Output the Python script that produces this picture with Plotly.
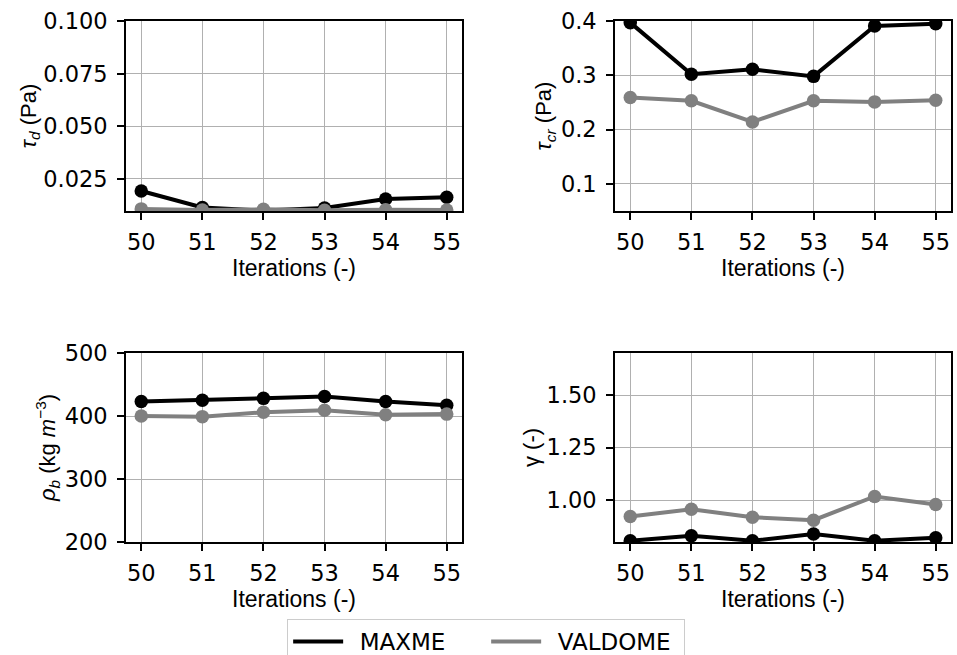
import plotly.graph_objects as go

iterations = [50, 51, 52, 53, 54, 55]

tau_d_maxme = [0.0193, 0.0115, 0.0100, 0.0112, 0.0155, 0.0163]
tau_d_valdome = [0.0108, 0.0103, 0.0106, 0.0102, 0.0104, 0.0103]

tau_cr_maxme = [0.397, 0.302, 0.311, 0.298, 0.391, 0.395]
tau_cr_valdome = [0.259, 0.253, 0.214, 0.253, 0.251, 0.254]

rho_b_maxme = [423, 425, 428, 431, 423, 417]
rho_b_valdome = [400, 399, 406, 409, 402, 403]

gamma_maxme = [0.806, 0.830, 0.806, 0.838, 0.806, 0.820]
gamma_valdome = [0.921, 0.956, 0.918, 0.904, 1.017, 0.979]

series_names = ["MAXME", "VALDOME"]
series_colors = ["#000000", "#808080"]

W, H = 957, 655


def px_x(a, b):
    return [a / W, b / W]


def px_y(top, bottom):
    return [(H - bottom) / H, (H - top) / H]


panels = [
    dict(x=px_x(126, 462), y=px_y(21, 211), data=(tau_d_maxme, tau_d_valdome),
         yrange=[0.0098, 0.1], ytick=[0.025, 0.05, 0.075, 0.1], fmt=".3f",
         title="<i>τ</i><sub><i>d</i></sub> (Pa)", standoff=1),
    dict(x=px_x(615, 951), y=px_y(21, 211), data=(tau_cr_maxme, tau_cr_valdome),
         yrange=[0.05, 0.4], ytick=[0.1, 0.2, 0.3, 0.4], fmt=".1f",
         title="<i>τ</i><sub><i>cr</i></sub> (Pa)", standoff=3),
    dict(x=px_x(126, 462), y=px_y(353, 542), data=(rho_b_maxme, rho_b_valdome),
         yrange=[200, 500], ytick=[200, 300, 400, 500], fmt="d",
         title="<i>ρ</i><sub><i>b</i></sub> (kg <i>m</i><sup>−3</sup>)", standoff=3),
    dict(x=px_x(615, 951), y=px_y(353, 542), data=(gamma_maxme, gamma_valdome),
         yrange=[0.8, 1.7], ytick=[1.0, 1.25, 1.5], fmt=".2f",
         title="γ (-)", standoff=1),
]

fig = go.Figure()
tick_font = dict(family="DejaVu Sans", size=22.5, color="black")
title_font = dict(family="Liberation Sans, Arial", size=22, color="black")

layout = {}
for i, p in enumerate(panels):
    n = "" if i == 0 else str(i + 1)
    for s, (vals, color) in enumerate(zip(p["data"], series_colors)):
        fig.add_trace(go.Scatter(
            x=iterations, y=vals, mode="lines+markers",
            line=dict(color=color, width=4),
            marker=dict(color=color, size=13.5),
            xaxis="x" + n, yaxis="y" + n, showlegend=False,
            cliponaxis=True,
        ))
    common = dict(showline=True, linecolor="black", linewidth=1.6, mirror=True,
                  ticks="outside", ticklen=7, tickwidth=1.5, tickcolor="black",
                  showgrid=True, gridcolor="#b0b0b0", gridwidth=1.3,
                  zeroline=False, tickfont=tick_font)
    layout["xaxis" + n] = dict(
        domain=p["x"], anchor="y" + n, range=[49.75, 55.25],
        tickvals=iterations, ticklabelstandoff=3,
        title=dict(text="Iterations (-)", font=dict(family="Liberation Sans, Arial", size=23, color="black"), standoff=1),
        **common)
    layout["yaxis" + n] = dict(
        domain=p["y"], anchor="x" + n, range=p["yrange"],
        tickvals=p["ytick"], tickformat=p["fmt"], ticklabelstandoff=5,
        title=dict(text=p["title"], font=title_font, standoff=p["standoff"]),
        **common)

for name, color in zip(series_names, series_colors):
    fig.add_trace(go.Scatter(
        x=[None], y=[None], mode="lines", name="\u2002" + name,
        line=dict(color=color, width=4), showlegend=True,
    ))

fig.update_layout(
    **layout,
    width=W, height=H,
    margin=dict(l=0, r=0, t=0, b=0, autoexpand=False),
    paper_bgcolor="white", plot_bgcolor="white",
    showlegend=True,
    legend=dict(orientation="h", x=0.508, xanchor="center", y=(H - 619) / H, yanchor="top",
                bordercolor="#cccccc", borderwidth=1, bgcolor="white",
                font=dict(family="DejaVu Sans", size=23, color="black"),
                entrywidth=133, entrywidthmode="pixels", itemwidth=50),
)

fig.write_html("out.html")
